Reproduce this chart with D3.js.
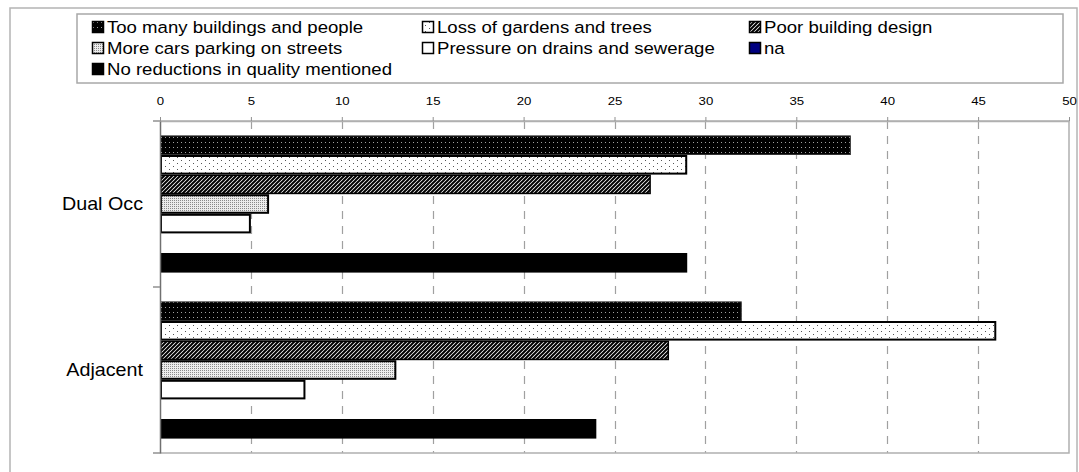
<!DOCTYPE html>
<html>
<head>
<meta charset="utf-8">
<script src="https://cdn.jsdelivr.net/npm/d3@7"></script>
<style>
  html, body { margin: 0; padding: 0; background: #fff; }
  svg { display: block; font-family: Arial, "Liberation Sans", sans-serif; }
</style>
</head>
<body>
<svg id="chart" width="1079" height="472"></svg>
<script>
// Survey responses: perceived reductions in neighbourhood quality
const categories = ["Dual Occ", "Adjacent"];
const seriesNames = [
  "Too many buildings and people",
  "Loss of gardens and trees",
  "Poor building design",
  "More cars parking on streets",
  "Pressure on drains and sewerage",
  "na",
  "No reductions in quality mentioned"
];
const dualOccValues = [38, 29, 27, 6, 5, null, 29];
const adjacentValues = [32, 46, 28, 13, 8, null, 24];
const tickValues = [0, 5, 10, 15, 20, 25, 30, 35, 40, 45, 50];

// fill / stroke per series (pattern ids defined below)
const seriesFills = ["url(#pDarkDots)", "url(#pLightDots)", "url(#pHatch)", "url(#pStipple)", "#ffffff", "#000080", "#000000"];
const seriesStrokes = ["#333333", "#000000", "#000000", "#000000", "#000000", "#000000", "#000000"];
const seriesStrokeW = [1, 2, 1.5, 2, 2, 1, 0];

const sx = 1.12; // horizontal text stretch

const svg = d3.select("#chart");
const defs = svg.append("defs");

// black with white dots
const p1 = defs.append("pattern").attr("id", "pDarkDots").attr("patternUnits", "userSpaceOnUse").attr("width", 4).attr("height", 5);
p1.append("rect").attr("width", 4).attr("height", 5).attr("fill", "#000");
p1.append("rect").attr("x", 1).attr("y", 2).attr("width", 1).attr("height", 1).attr("fill", "#a0a0a0");

// white with black dots
const p2 = defs.append("pattern").attr("id", "pLightDots").attr("patternUnits", "userSpaceOnUse").attr("width", 8).attr("height", 6);
p2.append("rect").attr("width", 8).attr("height", 6).attr("fill", "#fff");
p2.append("rect").attr("x", 1).attr("y", 1).attr("width", 1).attr("height", 1).attr("fill", "#555");
p2.append("rect").attr("x", 5).attr("y", 4).attr("width", 1).attr("height", 1).attr("fill", "#555");

// diagonal hatch
const p3 = defs.append("pattern").attr("id", "pHatch").attr("patternUnits", "userSpaceOnUse").attr("width", 4).attr("height", 4);
p3.append("rect").attr("width", 4).attr("height", 4).attr("fill", "#fff");
p3.append("path").attr("d", "M-1,5 L5,-1 M-1,1 L1,-1 M3,5 L5,3").attr("stroke", "#000").attr("stroke-width", 2);

// fine grey stipple
const p4 = defs.append("pattern").attr("id", "pStipple").attr("patternUnits", "userSpaceOnUse").attr("width", 2).attr("height", 2);
p4.append("rect").attr("width", 2).attr("height", 2).attr("fill", "#ececec");
p4.append("rect").attr("x", 0).attr("y", 0).attr("width", 1).attr("height", 1).attr("fill", "#8a8a8a");

// outer frame
svg.append("rect").attr("x", 10).attr("y", 8).attr("width", 1067).attr("height", 490)
  .attr("fill", "none").attr("stroke", "#b4b4b4").attr("stroke-width", 1.5);

// legend
const legendBox = { x: 77, y: 14, w: 986, h: 69 };
svg.append("rect").attr("x", legendBox.x).attr("y", legendBox.y).attr("width", legendBox.w).attr("height", legendBox.h)
  .attr("fill", "#fff").attr("stroke", "#a8a8a8").attr("stroke-width", 1.5);
const legendCols = [92, 422, 749];
const legendRows = [27, 48, 69];
const legend = svg.append("g");
seriesNames.forEach((name, i) => {
  const cx = legendCols[i % 3];
  const cy = legendRows[Math.floor(i / 3)];
  legend.append("rect").attr("x", cx + 0.5).attr("y", cy - 5.5).attr("width", 11).attr("height", 11)
    .attr("fill", seriesFills[i]).attr("stroke", "#000").attr("stroke-width", 1.5);
  legend.append("text")
    .attr("transform", `translate(${cx + 15},${cy}) scale(${sx},1)`)
    .attr("dominant-baseline", "central")
    .attr("font-size", 16.6).attr("fill", "#000")
    .text(name);
});

// scales
const plot = { left: 160, right: 1069, top: 121, bottom: 453 };
const x = d3.scaleLinear().domain([0, 50]).range([plot.left, plot.right]);
const y0 = d3.scaleBand().domain(categories).range([plot.top, plot.bottom]);
const y1 = d3.scaleBand().domain(seriesNames).range([0, y0.bandwidth()]).paddingInner(0).paddingOuter(0.735);

// dashed gridlines
svg.append("g").selectAll("line")
  .data(tickValues.filter(v => v > 0 && v < 50))
  .join("line")
  .attr("x1", d => Math.round(x(d)) + 0.5).attr("x2", d => Math.round(x(d)) + 0.5)
  .attr("y1", plot.top).attr("y2", plot.bottom)
  .attr("stroke", "#a0a0a0").attr("stroke-width", 1.2).attr("stroke-dasharray", "8,7");

// plot frame (top, right, bottom)
svg.append("path")
  .attr("d", `M${plot.left},${plot.top}H${plot.right}V${plot.bottom}H${plot.left}`)
  .attr("fill", "none").attr("stroke", "#b0b0b0").attr("stroke-width", 1.5);

// bars
const rows = categories.map((c, ci) => ({ cat: c, values: ci === 0 ? dualOccValues : adjacentValues }));
const barG = svg.append("g");
rows.forEach(row => {
  row.values.forEach((v, i) => {
    if (v == null) return;
    const sw = seriesStrokeW[i];
    barG.append("rect")
      .attr("x", x(0) + sw / 2)
      .attr("y", y0(row.cat) + y1(seriesNames[i]) + sw / 2)
      .attr("width", x(v) - x(0) - sw)
      .attr("height", y1.bandwidth() - sw)
      .attr("fill", seriesFills[i])
      .attr("stroke", sw > 0 ? seriesStrokes[i] : "none")
      .attr("stroke-width", sw);
  });
});

// top value axis
const xAxis = d3.axisTop(x).tickValues(tickValues).tickSize(4).tickSizeOuter(0).tickFormat(d3.format("d"));
const gx = svg.append("g").attr("transform", `translate(0,${plot.top})`).call(xAxis);
gx.select(".domain").attr("stroke", "#b0b0b0").attr("stroke-width", 1.5);
gx.selectAll(".tick line").attr("stroke", "#909090");
gx.selectAll(".tick text").each(function () {
  const t = d3.select(this);
  t.attr("y", null).attr("dy", null).attr("transform", `translate(0,-20) scale(${sx},1)`)
    .attr("dominant-baseline", "central").attr("font-size", 11.8).attr("fill", "#000")
    .attr("font-family", "Arial, 'Liberation Sans', sans-serif");
});

// category axis
const yAxis = d3.axisLeft(y0).tickValues([]).tickSizeOuter(0);
const gy = svg.append("g").attr("transform", `translate(${plot.left},0)`).call(yAxis);
gy.select(".domain").attr("stroke", "#707070").attr("stroke-width", 1.5);
// category separator ticks
svg.append("g").selectAll("line")
  .data([plot.top, y0("Adjacent"), plot.bottom])
  .join("line")
  .attr("x1", plot.left - 7).attr("x2", plot.left)
  .attr("y1", d => d).attr("y2", d => d)
  .attr("stroke", "#909090").attr("stroke-width", 1.5);
// category labels
svg.append("g").selectAll("text")
  .data(categories)
  .join("text")
  .attr("transform", d => `translate(143,${y0(d) + y0.bandwidth() / 2}) scale(${sx},1)`)
  .attr("text-anchor", "end").attr("dominant-baseline", "central")
  .attr("font-size", 17.6).attr("fill", "#000")
  .text(d => d);
</script>
</body>
</html>
